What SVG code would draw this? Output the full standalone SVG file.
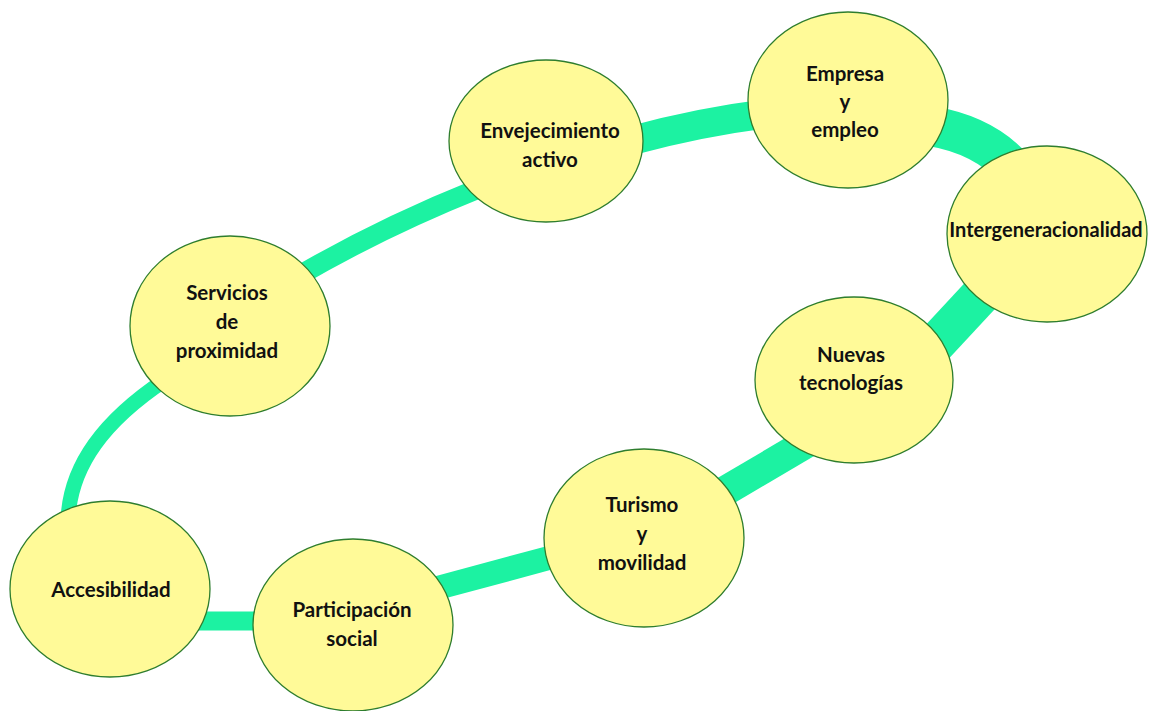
<svg xmlns="http://www.w3.org/2000/svg" width="1151" height="711" viewBox="0 0 1151 711">
<style>
.band{fill:none;stroke:#1CF2A2;stroke-linecap:butt}
.node ellipse{fill:#FFFA98;stroke:#2E7D2E;stroke-width:1.3}
.node text{font-family:Lato,"Liberation Sans",sans-serif;font-weight:bold;font-size:20.5px;fill:#111;text-anchor:middle}
</style>
<rect width="1151" height="711" fill="#ffffff"/>
<g id="connectors">
<path class="band" stroke-width="15" d="M 68,520 C 70,465 105,420 165,380"/>
<path class="band" stroke-width="20" d="M 295,278 Q 380,228 480,188"/>
<path class="band" stroke-width="29" d="M 630,141 Q 700,122 765,114"/>
<path class="band" stroke-width="40" d="M 930,126 Q 985,135 1015,170"/>
<path class="band" stroke-width="40" d="M 990,285 L 925,355"/>
<path class="band" stroke-width="30" d="M 815,438 L 720,494"/>
<path class="band" stroke-width="24" d="M 560,555 L 430,590"/>
<path class="band" stroke-width="19" d="M 195,621 L 265,621"/>
</g>
<g id="servicios" class="node"><ellipse cx="230" cy="326" rx="100" ry="90"/><text x="227" y="300">Servicios</text><text x="227" y="329">de</text><text x="227" y="358">proximidad</text></g>
<g id="envejecimiento" class="node"><ellipse cx="546" cy="141" rx="97" ry="81"/><text x="550" y="138">Envejecimiento</text><text x="550" y="167">activo</text></g>
<g id="empresa" class="node"><ellipse cx="848" cy="100" rx="100" ry="88"/><text x="845" y="81">Empresa</text><text x="845" y="109">y</text><text x="845" y="137">empleo</text></g>
<g id="intergeneracionalidad" class="node"><ellipse cx="1047" cy="234" rx="100" ry="88"/><text x="1046" y="237" style="font-size:20px">Intergeneracionalidad</text></g>
<g id="nuevas" class="node"><ellipse cx="854" cy="380" rx="99" ry="83"/><text x="851" y="362">Nuevas</text><text x="851" y="390">tecnologías</text></g>
<g id="turismo" class="node"><ellipse cx="644" cy="538" rx="100" ry="89"/><text x="642" y="512">Turismo</text><text x="642" y="541">y</text><text x="642" y="570">movilidad</text></g>
<g id="participacion" class="node"><ellipse cx="353" cy="625" rx="100" ry="86"/><text x="352" y="617">Participación</text><text x="352" y="646">social</text></g>
<g id="accesibilidad" class="node"><ellipse cx="110" cy="589" rx="100" ry="88"/><text x="111" y="597">Accesibilidad</text></g>
</svg>
